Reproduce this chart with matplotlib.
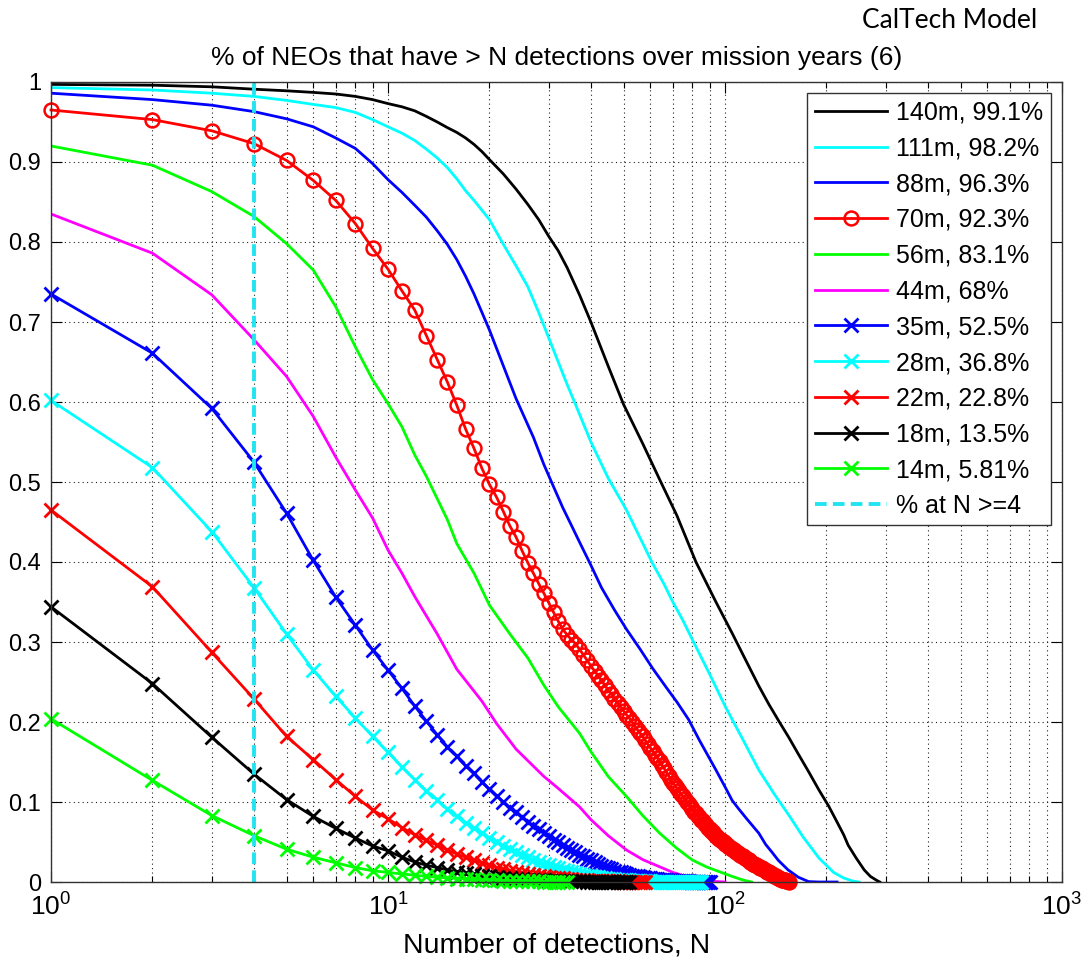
import numpy as np
import matplotlib
matplotlib.use("Agg")
import matplotlib.pyplot as plt
from matplotlib.ticker import LogLocator, NullFormatter

plt.rcParams['font.family'] = ['Liberation Sans', 'DejaVu Sans']
plt.rcParams['mathtext.fontset'] = 'custom'
plt.rcParams['mathtext.rm'] = 'Liberation Sans'
plt.rcParams['mathtext.it'] = 'Liberation Sans:italic'
plt.rcParams['mathtext.bf'] = 'Liberation Sans:bold'

# ---------------- data ----------------
title_text = "% of NEOs that have > N detections over mission years (6)"
model_text = "CalTech Model"
x_label = "Number of detections, N"
threshold_N = 4
threshold_label = "% at N >=4"
y_ticks = [0, 0.1, 0.2, 0.3, 0.4, 0.5, 0.6, 0.7, 0.8, 0.9, 1.0]
y_tick_labels = ['0', '0.1', '0.2', '0.3', '0.4', '0.5', '0.6', '0.7', '0.8', '0.9', '1']

# line-only curves (samples: N, fraction)
n_140 = [1, 2, 3, 4, 5, 6, 7, 8, 9, 10, 11, 12, 13, 14, 15, 16, 17, 18, 19, 20, 22, 24, 26, 28,
         30, 32, 34, 37, 40, 45, 50, 57, 64, 72, 82, 94, 105, 115, 126, 135, 145, 155, 165, 177,
         190, 203, 215, 225, 232, 245, 259, 270, 282, 288]
v_140 = [0.997, 0.996, 0.994, 0.991, 0.989, 0.987, 0.985, 0.982, 0.978, 0.973, 0.969, 0.964,
         0.957, 0.950, 0.943, 0.937, 0.930, 0.922, 0.913, 0.903, 0.885, 0.866, 0.847, 0.828,
         0.807, 0.789, 0.768, 0.734, 0.700, 0.645, 0.597, 0.548, 0.503, 0.458, 0.400, 0.350,
         0.311, 0.278, 0.245, 0.222, 0.200, 0.180, 0.160, 0.138, 0.115, 0.095, 0.075, 0.059,
         0.046, 0.030, 0.015, 0.007, 0.002, 0.0]

n_111 = [1, 2, 3, 4, 5, 6, 7, 8, 9, 10, 11, 12, 13, 14, 15, 16, 17, 18, 20, 22, 24, 26, 28, 30,
         32, 34, 36, 40, 45, 51, 56, 61, 66, 70, 75, 80, 90, 100, 113, 126, 140, 155, 170, 190,
         210, 225, 240, 250]
v_111 = [0.993, 0.990, 0.986, 0.982, 0.977, 0.972, 0.968, 0.962, 0.953, 0.944, 0.936, 0.927,
         0.916, 0.905, 0.893, 0.879, 0.864, 0.852, 0.828, 0.797, 0.770, 0.744, 0.712, 0.680,
         0.650, 0.622, 0.597, 0.550, 0.505, 0.465, 0.430, 0.398, 0.372, 0.350, 0.327, 0.303,
         0.260, 0.220, 0.178, 0.140, 0.110, 0.083, 0.057, 0.030, 0.012, 0.005, 0.001, 0.0]

n_88 = [1, 2, 3, 4, 5, 6, 7, 8, 9, 10, 11, 12, 13, 14, 15, 16, 17, 18, 19, 20, 22, 24, 27, 29,
        31, 33, 35, 37, 40, 43, 47, 51, 56, 61, 67, 72, 78, 84, 89, 94, 100, 105, 110, 116, 126,
        132, 138, 144, 154, 165, 177, 190, 215]
v_88 = [0.986, 0.978, 0.971, 0.963, 0.954, 0.944, 0.930, 0.917, 0.898, 0.878, 0.862, 0.846,
        0.831, 0.814, 0.797, 0.778, 0.757, 0.735, 0.712, 0.690, 0.645, 0.604, 0.556, 0.522,
        0.494, 0.468, 0.446, 0.425, 0.396, 0.368, 0.340, 0.316, 0.291, 0.267, 0.243, 0.225,
        0.203, 0.177, 0.158, 0.140, 0.119, 0.102, 0.091, 0.079, 0.061, 0.047, 0.037, 0.027,
        0.015, 0.006, 0.0005, 0.0, 0.0]

n_56 = [1, 2, 3, 4, 5, 6, 7, 8, 9, 10, 11, 12, 13, 15, 16, 18, 20, 23, 26, 29, 32, 37, 40, 45, 51,
        57, 64, 72, 80, 88, 96, 105, 113, 120]
v_56 = [0.920, 0.896, 0.863, 0.832, 0.798, 0.765, 0.719, 0.669, 0.628, 0.598, 0.569, 0.534, 0.507,
        0.453, 0.423, 0.386, 0.346, 0.310, 0.280, 0.246, 0.219, 0.186, 0.163, 0.132, 0.107, 0.083,
        0.061, 0.042, 0.0275, 0.019, 0.013, 0.007, 0.0025, 0.0]

n_44 = [1, 2, 3, 4, 5, 6, 7, 8, 9, 10, 11, 12, 14, 16, 19, 21, 24, 29, 32, 37, 40, 45, 51, 57, 64,
        70, 77, 85, 90, 100]
v_44 = [0.835, 0.786, 0.734, 0.678, 0.632, 0.582, 0.531, 0.490, 0.455, 0.415, 0.386, 0.357, 0.310,
        0.266, 0.226, 0.198, 0.166, 0.132, 0.117, 0.094, 0.078, 0.058, 0.040, 0.028, 0.019, 0.012,
        0.0066, 0.003, 0.001, 0.0]

# marker curves: one value per N = 1, 2, 3, ...
v_70 = [0.965, 0.953, 0.939, 0.923, 0.902, 0.877, 0.852, 0.823, 0.792, 0.766,
        0.739, 0.715, 0.683, 0.653, 0.625, 0.596, 0.566, 0.542, 0.517, 0.497,
        0.481, 0.463, 0.445, 0.431, 0.414, 0.399, 0.386, 0.373, 0.361, 0.349,
        0.337, 0.326, 0.316, 0.309, 0.303, 0.298, 0.291, 0.284, 0.277, 0.270,
        0.264, 0.258, 0.252, 0.246, 0.240, 0.235, 0.229, 0.224, 0.219, 0.214,
        0.209, 0.205, 0.200, 0.195, 0.190, 0.186, 0.182, 0.177, 0.172, 0.168,
        0.164, 0.159, 0.155, 0.151, 0.146, 0.142, 0.137, 0.133, 0.128, 0.124,
        0.121, 0.117, 0.114, 0.110, 0.107, 0.104, 0.100, 0.097, 0.094, 0.091,
        0.088, 0.086, 0.083, 0.081, 0.078, 0.076, 0.073, 0.071, 0.068, 0.066,
        0.064, 0.062, 0.060, 0.058, 0.056, 0.054, 0.053, 0.051, 0.050, 0.048,
        0.047, 0.045, 0.044, 0.043, 0.041, 0.040, 0.039, 0.038, 0.036, 0.035,
        0.034, 0.033, 0.032, 0.031, 0.030, 0.029, 0.028, 0.027, 0.025, 0.024,
        0.023, 0.022, 0.021, 0.021, 0.020, 0.019, 0.018, 0.017, 0.017, 0.016,
        0.015, 0.014, 0.013, 0.013, 0.012, 0.011, 0.010, 0.010, 0.009, 0.008,
        0.007, 0.007, 0.006, 0.005, 0.005, 0.004, 0.004, 0.003, 0.003, 0.002,
        0.002, 0.001, 0.001, 0.001, 0.000]

v_35 = [0.735, 0.661, 0.592, 0.525, 0.461, 0.402, 0.356, 0.321, 0.290, 0.265,
        0.242, 0.220, 0.201, 0.184, 0.169, 0.157, 0.145, 0.136, 0.125, 0.116,
        0.108, 0.100, 0.093, 0.087, 0.081, 0.075, 0.070, 0.066, 0.061, 0.057,
        0.053, 0.050, 0.046, 0.043, 0.040, 0.037, 0.034, 0.032, 0.029, 0.027,
        0.025, 0.022, 0.020, 0.019, 0.017, 0.016, 0.014, 0.013, 0.012, 0.011,
        0.010, 0.009, 0.008, 0.0075, 0.007, 0.0063, 0.0058, 0.0053, 0.0048, 0.0044,
        0.0040, 0.0037, 0.0034, 0.0031, 0.0028, 0.0026, 0.0024, 0.0022, 0.0020, 0.0018,
        0.0016, 0.0014, 0.0013, 0.0012, 0.0010, 0.0009, 0.0008, 0.0007, 0.0006, 0.0005,
        0.0005, 0.0004, 0.0004, 0.0003, 0.0003, 0.0002, 0.0002, 0.0001, 0.0001, 0.0001]

v_28 = [0.602, 0.518, 0.438, 0.368, 0.310, 0.265, 0.232, 0.205, 0.182, 0.162,
        0.144, 0.128, 0.114, 0.103, 0.091, 0.082, 0.074, 0.067, 0.061, 0.055,
        0.050, 0.045, 0.041, 0.037, 0.034, 0.031, 0.028, 0.025, 0.023, 0.021,
        0.019, 0.017, 0.015, 0.014, 0.012, 0.011, 0.010, 0.009, 0.008, 0.007,
        0.0063, 0.0057, 0.0051, 0.0046, 0.0041, 0.0037, 0.0033, 0.0030, 0.0027, 0.0024,
        0.0021, 0.0019, 0.0017, 0.0015, 0.0013, 0.0012, 0.0011, 0.0010, 0.0009, 0.0008,
        0.0006, 0.0006, 0.0005, 0.0005, 0.0004, 0.0004, 0.0003, 0.0003, 0.0003, 0.0002,
        0.0002, 0.0002, 0.0002, 0.0002, 0.0002, 0.0001, 0.0001, 0.0001, 0.0001, 0.0001,
        0.0001, 0.0001, 0.0001, 0.0001, 0.0001]

v_22 = [0.465, 0.369, 0.287, 0.229, 0.182, 0.153, 0.128, 0.107, 0.090, 0.079,
        0.068, 0.059, 0.052, 0.046, 0.040, 0.035, 0.031, 0.027, 0.024, 0.021,
        0.018, 0.016, 0.014, 0.012, 0.011, 0.010, 0.009, 0.008, 0.007, 0.006,
        0.0055, 0.0050, 0.0045, 0.0040, 0.0035, 0.0030, 0.0027, 0.0024, 0.0021, 0.0018,
        0.0016, 0.0014, 0.0012, 0.0011, 0.0010, 0.0009, 0.0008, 0.0007, 0.0006, 0.0005,
        0.0004, 0.0004, 0.0003, 0.0003, 0.0002, 0.0002, 0.0001, 0.0001]

v_18 = [0.344, 0.248, 0.181, 0.135, 0.103, 0.082, 0.067, 0.055, 0.045, 0.039,
        0.031, 0.025, 0.021, 0.018, 0.015, 0.013, 0.011, 0.0095, 0.008, 0.007,
        0.006, 0.0052, 0.0045, 0.0040, 0.0035, 0.0030, 0.0027, 0.0024, 0.0021, 0.0018,
        0.0016, 0.0014, 0.0012, 0.0011, 0.0010, 0.0009, 0.0008, 0.0007, 0.0006, 0.0005,
        0.0005, 0.0004, 0.0004, 0.0003, 0.0003, 0.0002, 0.0002, 0.0002, 0.0001, 0.0001,
        0.0001, 0.0001]

v_14 = [0.204, 0.127, 0.083, 0.058, 0.041, 0.031, 0.024, 0.018, 0.014, 0.012,
        0.010, 0.0085, 0.0070, 0.0060, 0.0050, 0.0043, 0.0037, 0.0032, 0.0027, 0.0023,
        0.0020, 0.0017, 0.0015, 0.0013, 0.0011, 0.0009, 0.0008, 0.0007, 0.0006, 0.0005,
        0.0004, 0.0003, 0.0002, 0.0001]

labels = ["140m, 99.1%", "111m, 98.2%", "88m, 96.3%", "70m, 92.3%", "56m, 83.1%", "44m, 68%",
          "35m, 52.5%", "28m, 36.8%", "22m, 22.8%", "18m, 13.5%", "14m, 5.81%"]

# ---------------- plot ----------------
W, H = 1090, 963
fig = plt.figure(figsize=(W / 100, H / 100), dpi=100)
ax = fig.add_axes([51 / W, (H - 882) / H, (1062 - 51) / W, 800 / H])

lw = 2.0
def seq(v):
    return np.arange(1, len(v) + 1)

ax.plot(n_140, v_140, color='#000000', lw=lw, label=labels[0])
ax.plot(n_111, v_111, color='#00ffff', lw=lw, label=labels[1])
ax.plot(n_88, v_88, color='#0000ff', lw=lw, label=labels[2])
ax.plot(seq(v_70), v_70, color='#ff0000', lw=lw, marker='o', ms=10, mfc='none',
        mew=1.8, label=labels[3], clip_on=False)
ax.plot(n_56, v_56, color='#00ff00', lw=lw, label=labels[4])
ax.plot(n_44, v_44, color='#ff00ff', lw=lw, label=labels[5])
mx = dict(lw=lw, marker='x', ms=9.5, mew=2.0, clip_on=False)
ax.plot(seq(v_35), v_35, color='#0000ff', label=labels[6], **mx)
ax.plot(seq(v_28), v_28, color='#00ffff', label=labels[7], **mx)
ax.plot(seq(v_22), v_22, color='#ff0000', label=labels[8], **mx)
ax.plot(seq(v_18), v_18, color='#000000', label=labels[9], **mx)
ax.plot(seq(v_14), v_14, color='#00ff00', label=labels[10], **mx)
ax.axvline(threshold_N, color='#22e4f0', lw=2.8, linestyle=(0, (3, 1.6)),
           label=threshold_label)

ax.set_xscale('log')
ax.set_xlim(1, 1000)
ax.set_ylim(0, 1)
ax.set_yticks(y_ticks, y_tick_labels)
ax.xaxis.set_major_locator(LogLocator(base=10, numticks=10))
ax.xaxis.set_minor_locator(LogLocator(base=10, subs=np.arange(2, 10), numticks=20))
ax.xaxis.set_minor_formatter(NullFormatter())

ax.grid(True, which='major', axis='both', color='#222222', linestyle=(0, (1, 3)), lw=0.8)
ax.grid(True, which='minor', axis='x', color='#222222', linestyle=(0, (1, 3)), lw=0.8)
ax.tick_params(which='both', direction='in', top=True, right=True)
ax.tick_params(which='major', length=8, width=0.8)
ax.tick_params(which='minor', length=4, width=0.8)
ax.tick_params(axis='y', pad=7, labelsize=17)
ax.tick_params(axis='x', pad=8, labelsize=19)
for s in ax.spines.values():
    s.set_linewidth(1.0)
    s.set_color('#333333')

ax.set_xlabel(x_label, fontsize=20.5, labelpad=9)
ax.set_title(title_text, fontsize=19, pad=12)
fig.text(950 / W, 1 - 21 / H, model_text, fontsize=19, family=['Lato', 'DejaVu Sans'],
         ha='center', va='center')

leg = ax.legend(loc='upper right', fontsize=18, fancybox=False, edgecolor='#333333',
                framealpha=1, borderaxespad=0.45, handlelength=2.9, handletextpad=0.35,
                labelspacing=0.47, borderpad=0.3)
leg.get_frame().set_linewidth(1.0)

fig.savefig('out.png', dpi=100)
